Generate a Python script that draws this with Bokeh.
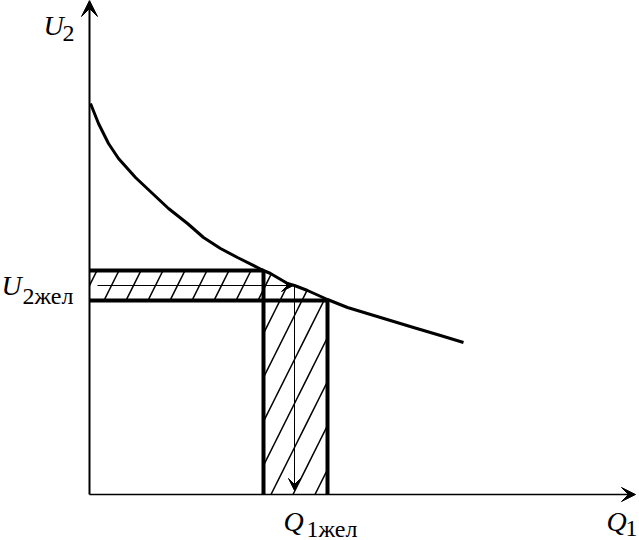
from bokeh.plotting import figure
from bokeh.models import Range1d, Arrow, VeeHead
from bokeh.core.properties import value
from bokeh.embed import file_html
from bokeh.resources import INLINE

# ---- data (arbitrary units) ----
curve_q = [0.1, 0.9, 1.9, 2.9, 4.6, 6.3, 7.9, 9.8, 11.4, 13.1, 14.8, 16.8, 17.4,
           18.1, 19.8, 20.5, 21.8, 23.8, 25.8, 29.1, 32.4, 35.1, 37.4]
curve_u = [39.1, 37.1, 35.1, 33.6, 31.7, 30.1, 28.6, 27.1, 25.7, 24.6, 23.7, 22.7, 22.4,
           22.1, 21.1, 20.9, 20.4, 19.5, 18.7, 17.7, 16.7, 15.9, 15.2]

u_top = 22.4      # upper edge of the U2 band
u_bot = 19.4      # lower edge of the U2 band
u_des = 20.9      # U2жел
q_left = 17.4     # left edge of the Q1 band
q_right = 23.8    # right edge of the Q1 band
q_des = 20.5      # Q1жел

q_axis_max = 54.6
u_axis_max = 49.4

p = figure(width=639, height=540, output_backend="svg", toolbar_location=None,
           x_range=Range1d(-8.9, 55.0), y_range=Range1d(-4.6, 49.4),
           x_axis_type=None, y_axis_type=None, min_border=0)
p.outline_line_color = None
p.xgrid.visible = False
p.ygrid.visible = False

# hatched region
inner_q = [q for q in curve_q if q_left < q < q_right]
inner_u = [u for q, u in zip(curve_q, curve_u) if q_left < q < q_right]
u_right_curve = curve_u[curve_q.index(q_right)]
poly_x = [0, q_left] + inner_q + [q_right, q_right, q_left, q_left, 0]
poly_y = [u_top, u_top] + inner_u + [u_right_curve, 0, 0, u_bot, u_bot]
p.patch(poly_x, poly_y, fill_color=None, line_color=None,
        hatch_pattern="/", hatch_scale=44, hatch_weight=1.5, hatch_color="black")

# thick band borders
p.multi_line(xs=[[0, q_left], [0, q_right], [q_left, q_left], [q_right, q_right]],
             ys=[[u_top, u_top], [u_bot, u_bot], [u_top, 0], [u_right_curve, 0]],
             line_color="black", line_width=4)

# curve
p.line(curve_q, curve_u, line_color="black", line_width=3, line_join="round")

# axes with arrows
p.add_layout(Arrow(x_start=0, y_start=0, x_end=0, y_end=u_axis_max, line_width=2,
                   end=VeeHead(size=16, fill_color="black", line_color="black", line_width=1)))
p.add_layout(Arrow(x_start=0, y_start=0, x_end=q_axis_max, y_end=0, line_width=1.5,
                   end=VeeHead(size=14, fill_color="black", line_color="black", line_width=1)))

# thin construction arrows
p.add_layout(Arrow(x_start=0.8, y_start=u_des, x_end=q_des - 0.1, y_end=u_des, line_width=1,
                   end=VeeHead(size=12, fill_color="black", line_color="black", line_width=1)))
p.add_layout(Arrow(x_start=q_des, y_start=u_des, x_end=q_des, y_end=0.4, line_width=1,
                   end=VeeHead(size=12, fill_color="black", line_color="black", line_width=1)))

serif = value("Liberation Serif")
# italic main letters
p.text(x=[-4.6, -8.8, 19.4, 51.7], y=[46.9, 20.9, -2.7, -2.7],
       text=["U", "U", "Q", "Q"], text_font=serif, text_font_style="italic",
       text_font_size="28px", text_color="black", text_baseline="alphabetic")
# subscripts
p.text(x=[-2.7, -6.7, 21.7, 53.6], y=[46.1, 19.9, -3.4, -3.4],
       text=["2", "2жел", "1жел", "1"], text_font=serif, text_font_style="normal",
       text_font_size="24px", text_color="black", text_baseline="alphabetic")

open("out.html", "w").write(file_html(p, INLINE))
